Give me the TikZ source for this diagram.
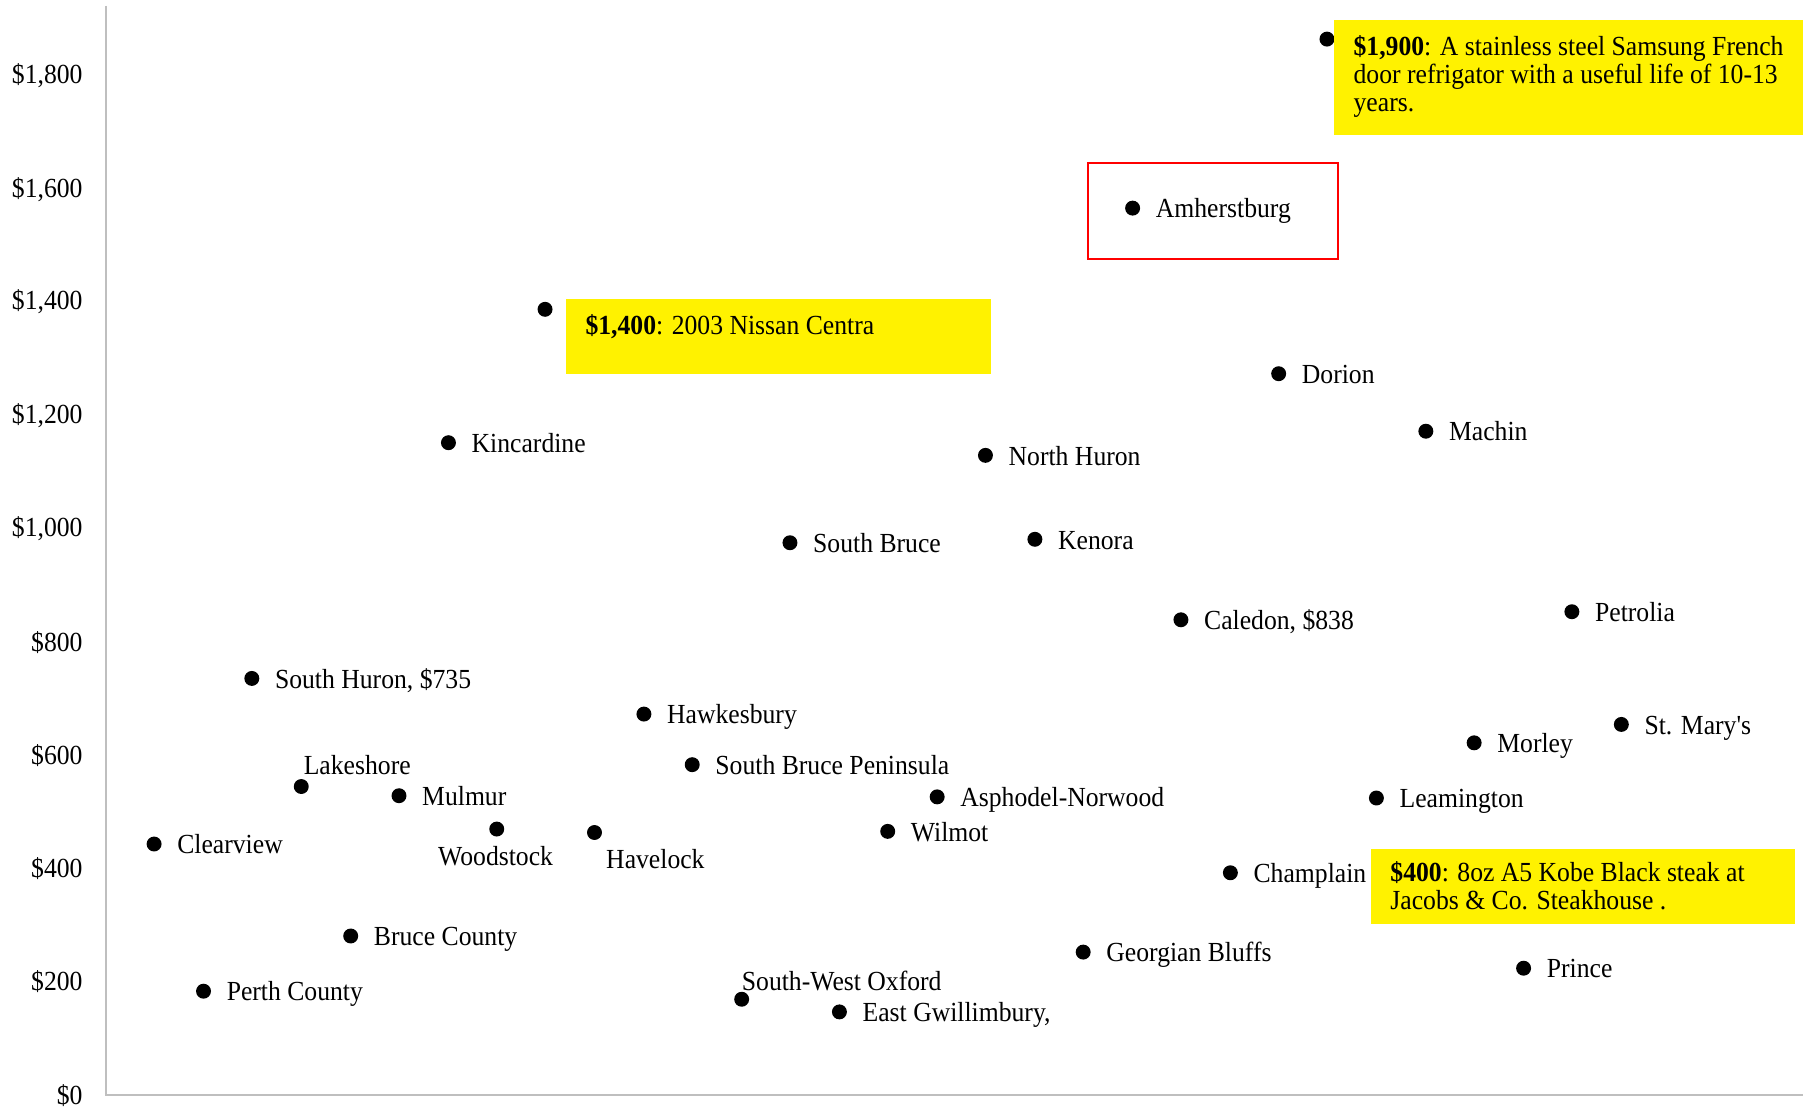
\documentclass[tikz,border=0pt]{standalone}
\usepackage{fontspec}
\setmainfont[FakeStretch=0.93]{Liberation Serif}
\newfontfamily\plainf[FakeStretch=0.93]{Liberation Serif}
\newcommand\lab{\fontsize{24}{24}\selectfont}
\tikzset{
  dotn/.style={circle, fill=black, inner sep=0pt, minimum size=13pt},
  lbl/.style={anchor=west, inner sep=0pt, text height=22pt, text depth=5pt, font=\lab},
  ylab/.style={anchor=east, inner sep=0pt, text height=22pt, text depth=5pt, font=\lab},
  ybox/.style={fill=yellow, draw=none, inner sep=0pt, anchor=north west},
  ytext/.style={anchor=north west, align=left, inner sep=0pt, font=\lab},
  axisline/.style={draw=black!25, line width=1.6pt}
}
\newcommand\mypt[4]{\node[dotn] (#1) at (#2,#3) {}; \node[lbl] (#1-l) at ([xshift=20pt]#1.center) {#4};}
\begin{document}
\begin{tikzpicture}[x=1pt,y=-1pt]
\useasboundingbox[fill=white] (0,0) rectangle (1568,964);
% axes
\coordinate (ytop) at (92,5);
\coordinate (orig) at (92,952);
\coordinate (xend) at (1568,952);
\draw[axisline] (ytop) -- (orig) -- (xend);
% y labels
\node[ylab] (y0) at (72,952) {\$0};
\node[ylab] (y200) at (72,853) {\$200};
\node[ylab] (y400) at (72,755) {\$400};
\node[ylab] (y600) at (72,656) {\$600};
\node[ylab] (y800) at (72,558) {\$800};
\node[ylab] (y1000) at (72,458) {\$1,000};
\node[ylab] (y1200) at (72,360) {\$1,200};
\node[ylab] (y1400) at (72,261) {\$1,400};
\node[ylab] (y1600) at (72,163) {\$1,600};
\node[ylab] (y1800) at (72,64) {\$1,800};
% points
\node[dotn] (sams) at (1154,34) {};
\node[dotn] (niss) at (474,269) {};
\mypt{amh}{985}{181}{Amherstburg}
\mypt{dor}{1112}{325}{Dorion}
\mypt{mach}{1240}{375}{Machin}
\mypt{kinc}{390}{385}{Kincardine}
\mypt{nhur}{857}{396}{North Huron}
\mypt{sbru}{687}{472}{South Bruce}
\mypt{ken}{900}{469}{Kenora}
\mypt{cal}{1027}{539}{Caledon, \$838}
\mypt{pet}{1367}{532}{Petrolia}
\mypt{shur}{219}{590}{South Huron, \$735}
\mypt{hawk}{560}{621}{Hawkesbury}
\mypt{mor}{1282}{646}{Morley}
\mypt{stm}{1410}{630}{{\plainf St. Mary's}}
\node[dotn] (lake) at (262,684) {};
\node[lbl] (lake-l) at (264,665) {Lakeshore};
\mypt{mul}{347}{692}{Mulmur}
\mypt{sbp}{602}{665}{South Bruce Peninsula}
\mypt{asp}{815}{693}{Asphodel-Norwood}
\mypt{lea}{1197}{694}{Leamington}
\mypt{clear}{134}{734}{Clearview}
\node[dotn] (wood) at (432,721) {};
\node[lbl, anchor=center] (wood-l) at (431,744) {Woodstock};
\node[dotn] (have) at (517,724) {};
\node[lbl] (have-l) at (527,747) {Havelock};
\mypt{wil}{772}{723}{Wilmot}
\mypt{cham}{1070}{759}{Champlain}
\mypt{bruc}{305}{814}{Bruce County}
\mypt{perth}{177}{862}{Perth County}
\mypt{geo}{942}{828}{Georgian Bluffs}
\mypt{prin}{1325}{842}{Prince}
\node[dotn] (swo) at (645,869) {};
\node[lbl] (swo-l) at (645,853) {South-West Oxford};
\mypt{egw}{730}{880}{East Gwillimbury,}
% highlight box
\node[draw=red, line width=1.8pt, minimum width=218pt, minimum height=83pt, inner sep=0pt, anchor=north west] (redbox) at (945,141) {};
% yellow boxes
\node[ybox, minimum width=408pt, minimum height=100pt] (box1900) at (1160,17) {};
\node[ytext] (t1900) at (1177,31) {\textbf{\$1,900}: A stainless steel Samsung French\\door refrigator with a useful life of 10-13\\years.};
\node[ybox, minimum width=370pt, minimum height=65pt] (box1400) at (492,260) {};
\node[ytext] (t1400) at (509,273) {\textbf{\$1,400}: 2003 Nissan Centra};
\node[ybox, minimum width=369pt, minimum height=65pt] (box400) at (1192,738) {};
\node[ytext] (t400) at (1209,749) {\textbf{\$400}: 8oz A5 Kobe Black steak at\\Jacobs \& Co. Steakhouse .};
\end{tikzpicture}
\end{document}
